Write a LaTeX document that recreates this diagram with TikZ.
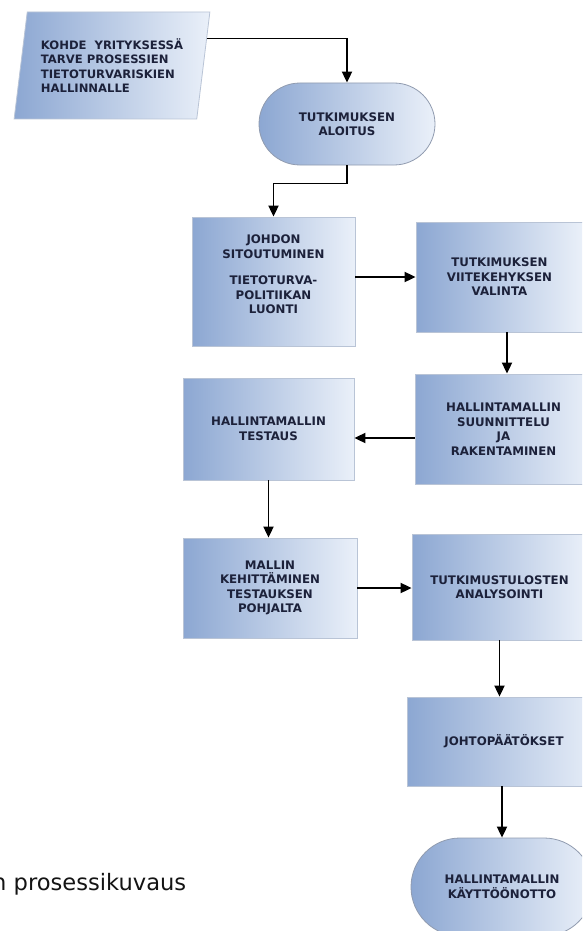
\documentclass[tikz,border=0pt]{standalone}
\usepackage{fontspec}
\setmainfont{DejaVu Sans}
\usetikzlibrary{shapes.geometric,shapes.misc,arrows.meta,calc}
\definecolor{shadeL}{RGB}{140,167,210}
\definecolor{shadeR}{RGB}{234,240,249}
\definecolor{boxline}{RGB}{185,196,214}
\definecolor{termline}{RGB}{145,156,176}
\definecolor{navytext}{RGB}{28,33,58}
\definecolor{captext}{RGB}{20,20,20}
\tikzset{
  procbox/.style={rectangle, draw=boxline, line width=0.8pt, left color=shadeL, right color=shadeR,
    text=navytext, align=center, inner sep=2pt,
    font=\fontsize{11.8}{14.5}\selectfont\bfseries},
  termbox/.style={rounded rectangle, draw=termline, line width=0.8pt, left color=shadeL, right color=shadeR,
    text=navytext, align=center, inner sep=2pt,
    font=\fontsize{11.8}{14.5}\selectfont\bfseries},
  inbox/.style={trapezium, trapezium stretches=true, trapezium left angle=78.9, trapezium right angle=101.1,
    draw=boxline, line width=0.8pt, left color=shadeL, right color=shadeR,
    text=navytext, align=left, inner sep=2pt,
    font=\fontsize{11.6}{14.3}\selectfont\bfseries},
  flow/.style={draw=black, line width=1.8pt, -{Triangle[length=11pt,width=10pt]}},
}
\begin{document}
\begin{tikzpicture}[x=1pt,y=-1pt]
\useasboundingbox (0,0) rectangle (582,931);
\fill[white] (0,0) rectangle (582,931);
\clip (0,0) rectangle (582,931);

\node[inbox, minimum width=196pt, minimum height=107pt] (par) at (112,65.5)
  {KOHDE\ \ YRITYKSESSÄ\\TARVE PROSESSIEN\\TIETOTURVARISKIEN\\HALLINNALLE};
\node[termbox, minimum width=180pt, minimum height=82pt] (t1) at (347,124)
  {TUTKIMUKSEN\\ALOITUS};
\node[procbox, minimum width=163pt, minimum height=129pt] (johdon) at (273.5,281.5)
  {JOHDON\\SITOUTUMINEN\\[12pt]TIETOTURVA-\\POLITIIKAN\\LUONTI\\\mbox{}};
\node[procbox, minimum width=167pt, minimum height=110pt] (viite) at (499.5,277)
  {TUTKIMUKSEN\\VIITEKEHYKSEN\\VALINTA};
\node[procbox, minimum width=171pt, minimum height=102pt] (testaus) at (268.5,429)
  {HALLINTAMALLIN\\TESTAUS};
\node[procbox, minimum width=177pt, minimum height=110pt] (suun) at (503.5,429)
  {HALLINTAMALLIN\\SUUNNITTELU\\JA\\RAKENTAMINEN};
\node[procbox, minimum width=174pt, minimum height=100pt] (mallin) at (270,588)
  {MALLIN\\KEHITTÄMINEN\\TESTAUKSEN\\POHJALTA};
\node[procbox, minimum width=175pt, minimum height=106pt] (tutk) at (499.5,587)
  {TUTKIMUSTULOSTEN\\ANALYSOINTI};
\node[procbox, minimum width=194pt, minimum height=89pt] (johto) at (504,741.5)
  {JOHTOPÄÄTÖKSET};
\node[termbox, minimum width=186pt, minimum height=98pt] (t2) at (502,887)
  {HALLINTAMALLIN\\KÄYTTÖÖNOTTO};

\node[anchor=base west, inner sep=0pt, text=captext, font=\fontsize{22.6}{26}\selectfont] (cap) at (-8,890)
  {n prosessikuvaus};

\coordinate (parR) at ($(par.top right corner)!0.25!(par.bottom right corner)$);
\draw[flow] (parR) -| (t1.north);
\draw[flow] (t1.south) -- ++(0,18) -| (johdon.north);
\draw[flow] (viite.west -| johdon.east) -- (viite.west);
\draw[flow] ([xshift=3.5pt]suun.north |- viite.south) -- ([xshift=3.5pt]suun.north);
\draw[flow] ([yshift=-9pt]suun.west) -- ([yshift=-9pt]suun.west -| testaus.east);
\draw[flow] (testaus.south) -- (testaus.south |- mallin.north);
\draw[flow] (mallin.east) -- (mallin.east -| tutk.west);
\draw[flow] (tutk.south) -- (tutk.south |- johto.north);
\draw[flow] (t2.north |- johto.south) -- (t2.north);
\end{tikzpicture}
\end{document}
